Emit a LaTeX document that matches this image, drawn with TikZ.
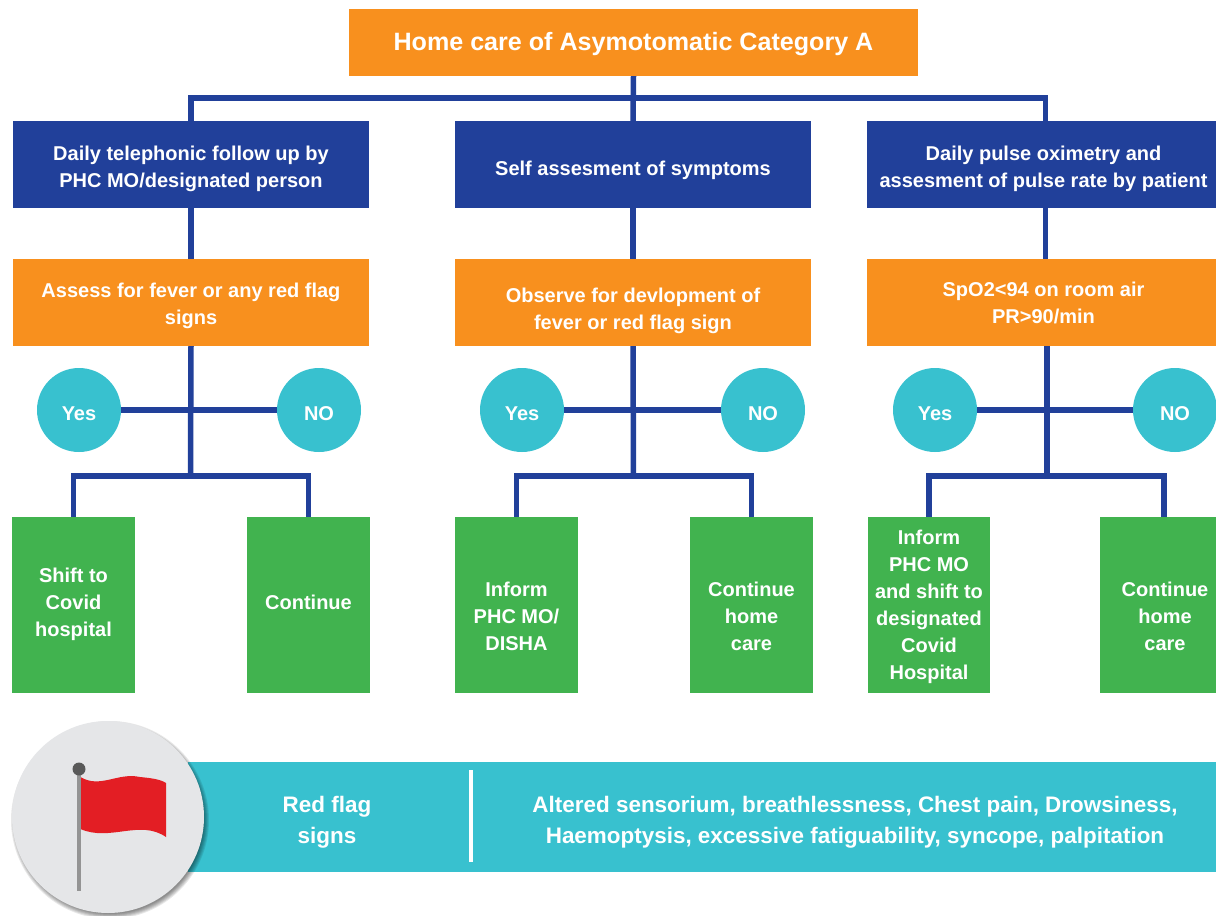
\documentclass[tikz,border=0pt]{standalone}
\usepackage{fontspec}
\setmainfont{Liberation Sans}
\definecolor{cblue}{HTML}{21409A}
\definecolor{corange}{HTML}{F8901E}
\definecolor{cteal}{HTML}{38C1CF}
\definecolor{cgreen}{HTML}{41B34F}
\definecolor{cred}{HTML}{E31E24}
\definecolor{cgrey}{HTML}{E5E6E8}
\newcommand{\tp}[1]{\rule{0pt}{\dimexpr20pt+#1pt\relax}}
\tikzset{
  lower/.style={execute at begin node={\rule{0pt}{\dimexpr20pt+#1pt\relax}},execute at end node={\rule[\dimexpr-20pt+#1pt\relax]{0pt}{\dimexpr20pt-#1pt\relax}}},
  box/.style={rectangle,inner sep=0pt,text=white,align=center,font=\fontsize{20}{27}\bfseries\selectfont},
  bluebox/.style={box,fill=cblue,minimum width=#1,minimum height=87},
  orangebox/.style={box,fill=corange,minimum width=#1,minimum height=87},
  greenbox/.style={box,fill=cgreen,minimum width=#1,minimum height=176},
  answer/.style={circle,inner sep=0pt,fill=cteal,minimum size=84,text=white,lower=10.3,font=\fontsize{20}{24}\bfseries\selectfont},
  link/.style={draw=cblue,line width=5.5pt},
  bandtext/.style={text=white,align=center,inner sep=0pt,font=\fontsize{22.45}{31.5}\bfseries\selectfont},
}
\begin{document}
\begin{tikzpicture}[x=1pt,y=-1pt]
\useasboundingbox (0,0) rectangle (1216,916);
\fill[white] (0,0) rectangle (1216,916);
% nodes
\node[box,fill=corange,minimum width=569,minimum height=67,lower=7.5,font=\fontsize{25.1}{30}\bfseries\selectfont] (title) at (633.5,42.5) {Home care of Asymotomatic Category A};
\node[bluebox=356,lower=9.3] (a1) at (191,164.5) {\tp{9.3}Daily telephonic follow up by\\PHC MO/designated person};
\node[bluebox=356,lower=10.8] (a2) at (633,164.5) {Self assesment of symptoms};
\node[bluebox=349,lower=9.3] (a3) at (1041.5,164.5) {\tp{9.3}\hspace*{4pt}Daily pulse oximetry and\\\hspace*{4pt}assesment of pulse rate by patient};
\node[orangebox=356,lower=8.3] (b1) at (191,302.5) {\tp{8.3}Assess for fever or any red flag\\signs};
\node[orangebox=356,lower=13.3] (b2) at (633,302.5) {\tp{13.3}Observe for devlopment of\\fever or red flag sign};
\node[orangebox=349,lower=7.8] (b3) at (1041.5,302.5) {\tp{7.8}\hspace*{4pt}SpO2<94 on room air\\\hspace*{4pt}PR>90/min};
\node[answer] (y1) at (79,410) {Yes};
\node[answer] (n1) at (319,410) {NO};
\node[answer] (y2) at (522,410) {Yes};
\node[answer] (n2) at (763,410) {NO};
\node[answer] (y3) at (935,410) {Yes};
\node[answer] (n3) at (1175,410) {NO};
\node[greenbox=123,lower=4.3] (g1) at (73.5,605) {\tp{4.3}Shift to\\Covid\\hospital};
\node[greenbox=123,lower=4.3] (g2) at (308.5,605) {Continue};
\node[greenbox=123,lower=18.3] (g3) at (516.5,605) {\tp{18.3}Inform\\PHC MO/\\DISHA};
\node[greenbox=123,lower=18.3] (g4) at (751.5,605) {\tp{18.3}Continue\\home\\care};
\node[greenbox=122,lower=7.3] (g5) at (929,605) {\tp{7.3}Inform\\PHC MO\\and shift to\\designated\\Covid\\Hospital};
\node[greenbox=116] (g6) at (1158,605) {};
\node[box,lower=18.3] (g6t) at (1165,605) {\tp{18.3}Continue\\home\\care};
% connectors
\coordinate (topbus) at (633,98);
\coordinate (m1) at (190.5,476);
\coordinate (m2) at (633.5,476);
\coordinate (m3) at (1047,476);
\coordinate (d6) at (1164,517);
\coordinate (d3) at (1045.5,121);
\draw[link] (title.south) -- (a2.north);
\draw[link] (a1.north) |- (topbus) -| (d3);
\draw[link] (a1.south) -- (b1.north);
\draw[link] (a2.south) -- (b2.north);
\draw[link] (d3 |- a3.south) -- (d3 |- b3.north);
\draw[link] (b1.south) -- (m1);
\draw[link] (b2.south) -- (m2);
\draw[link] (m3 |- b3.south) -- (m3);
\draw[link] (y1) -- (n1);
\draw[link] (y2) -- (n2);
\draw[link] (y3) -- (n3);
\draw[link] (g1.north) |- (m1) -| (g2.north);
\draw[link] (g3.north) |- (m2) -| (g4.north);
\draw[link] (g5.north) |- (m3) -| (d6);
% red flag band
\node[rectangle,inner sep=0pt,fill=cteal,minimum width=1028,minimum height=110] (band) at (702,817) {};
\node[bandtext] (rf) at (327,822) {Red flag\\signs};
\node[bandtext] (rt) at (855,822) {Altered sensorium, breathlessness, Chest pain, Drowsiness,\\Haemoptysis, excessive fatiguability, syncope, palpitation};
\draw[white,line width=4pt] (470.5,770) -- (470.5,862);
% flag medallion
\foreach \r in {99,98,97,96,95,94}{
  \fill[black,opacity=.09] (110,820) circle (\r);
}
\fill[cgrey] (108,817) circle (96);
\fill[cred] (80.5,777) .. controls (100,789) and (118,772) .. (140,777) .. controls (150,778) and (160,779) .. (166,783) -- (166,837)
  .. controls (140,819) and (110,842) .. (80.5,829) -- cycle;
\draw[draw=black!42,line width=4pt] (79,772) -- (79,891);
\fill[black!65] (79,769) circle (6.5);
\end{tikzpicture}
\end{document}
